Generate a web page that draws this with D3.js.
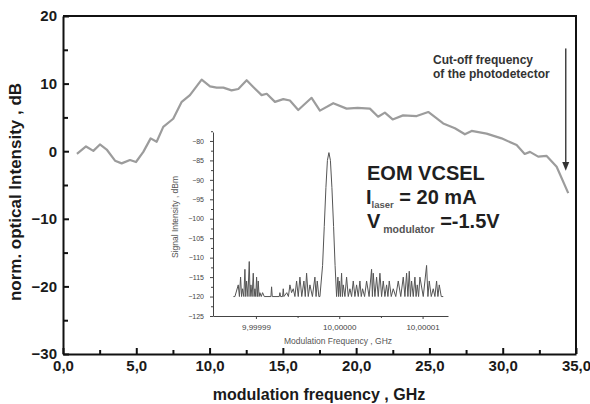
<!doctype html>
<html lang="en">
<head>
<meta charset="utf-8">
<title>EOM VCSEL modulation response</title>
<script src="https://d3js.org/d3.v7.min.js"></script>
<style>
  body { margin: 0; background: #fff; }
  svg { display: block; font-family: "Liberation Sans", Arial, sans-serif; }
  .main-axis text { font-size: 15px; font-weight: bold; fill: #1a1a1a; }
  .main-axis path, .main-axis line { stroke: #111; stroke-width: 2; }
  .inset-axis path, .inset-axis line { stroke: #444; stroke-width: 1; }
  .inset-axis text { fill: #444; }
</style>
</head>
<body>
<svg width="590" height="404"></svg>
<script>

// main response curve
var freqGHz = [0.95, 1.57, 2.07, 2.52, 2.98, 3.55, 4.0, 4.57, 4.98, 5.48, 5.98, 6.39, 6.84, 7.52,
  8.1, 8.66, 9.46, 10.03, 10.48, 10.94, 11.5, 11.96, 12.53, 12.98, 13.55, 13.9, 14.46, 15.03,
  15.48, 16.05, 16.96, 17.53, 18.44, 19.35, 20.1, 20.94, 21.5, 21.96, 22.49, 23.2, 24.13, 24.92,
  25.94, 26.74, 27.42, 27.88, 28.9, 29.92, 30.95, 31.5, 31.86, 32.42, 33.0, 33.68, 34.47];
var normDB = [-0.4, 0.7, 0.05, 1.0, 0.25, -1.4, -1.8, -1.3, -1.6, -0.1, 1.9, 1.4, 3.6, 4.8,
  7.3, 8.3, 10.6, 9.6, 9.4, 9.4, 9.0, 9.2, 10.5, 9.5, 8.3, 8.5, 7.3, 7.7,
  7.5, 6.1, 7.9, 6.0, 7.1, 6.3, 6.4, 6.3, 5.1, 5.7, 4.7, 5.3, 5.2, 5.8,
  4.1, 3.4, 2.5, 3.0, 2.6, 1.9, 0.9, -0.4, -0.1, -0.8, -0.7, -2.3, -6.2];

var xTicks = [0, 5, 10, 15, 20, 25, 30, 35];
var xMinor = [2.5, 7.5, 12.5, 17.5, 22.5, 27.5, 32.5];
var yTicks = [-30, -20, -10, 0, 10, 20];
var yMinor = [-25, -15, -5, 5, 15];

// inset spectrum: offset from 10 GHz in kHz, level in dBm
var specKHz = [-12.7, -12.52, -12.12, -11.98, -11.84, -11.72, -11.6, -11.45, -11.32, -11.22,
  -11.12, -10.96, -10.8, -10.7, -10.6, -10.46, -10.32, -10.22, -10.12, -10.02,
  -9.92, -9.82, -9.72, -9.62, -9.52, -9.36, -9.2, -9.0, -8.2, -8.12,
  -8.04, -7.2, -7.12, -7.04, -6.8, -6.72, -6.64, -6.3, -6.1, -5.92,
  -5.72, -5.52, -5.32, -5.12, -4.92, -4.72, -4.5, -4.24, -4.08, -3.92,
  -3.72, -3.52, -3.22, -2.92, -2.78, -2.64, -2.45, -2.32, -2.0, -1.8,
  -1.6, -1.42, -1.24, -1.06, -0.88, -0.68, -0.5, -0.32, -0.16, -0.08,
  0.0, 0.14, 0.28, 0.38, 0.48, 0.68, 0.88, 1.08, 1.28, 1.48,
  1.68, 1.88, 2.08, 2.28, 2.48, 2.64, 2.8, 3.04, 3.28, 3.58,
  3.88, 3.98, 4.08, 4.28, 4.48, 4.68, 4.88, 5.08, 5.28, 5.48,
  5.68, 5.84, 6.0, 6.24, 6.48, 6.78, 7.08, 7.38, 7.68, 7.88,
  8.08, 8.24, 8.4, 8.54, 8.68, 8.88, 9.08, 9.22, 9.36, 9.52,
  9.68, 10.08, 10.48, 10.64, 10.8, 11.04, 11.28, 11.48, 11.68, 11.84,
  12.0, 12.24, 12.48];
var specDBm = [-120, -120, -117, -120, -115, -120, -118, -120, -113, -120,
  -116, -120, -111, -120, -117, -120, -114, -120, -118, -120,
  -115, -120, -116, -120, -119, -120, -119, -120, -120, -117.5,
  -120, -120, -119, -120, -120, -118, -120, -119, -120, -117,
  -119, -118, -120, -116, -120, -115, -120, -116, -120, -114,
  -120, -117, -120, -115, -120, -116, -120, -120, -112, -102,
  -92, -85, -83, -85, -92, -102, -112, -120, -115, -120,
  -116, -120, -114, -120, -117, -120, -115, -120, -118, -120,
  -116, -120, -117, -120, -116, -120, -118, -120, -116, -120,
  -113, -120, -114, -120, -115, -120, -114, -120, -116, -120,
  -117, -120, -116, -120, -118, -120, -116, -120, -115, -120,
  -114, -120, -113.5, -120, -116, -120, -115, -120, -117, -120,
  -115, -120, -112, -120, -116, -120, -118, -120, -116, -120,
  -117, -120, -120];

var insetXTicks = [-10, 0, 10];
var insetXLabels = ["9,99999", "10,00000", "10,00001"];
var insetXMinor = [-5, 5];
var insetYTicks = [-125, -120, -115, -110, -105, -100, -95, -90, -85, -80];

var cutoffGHz = 34.3;

var svg = d3.select("svg");

var x = d3.scaleLinear().domain([0, 35]).range([63, 576]);
var y = d3.scaleLinear().domain([-30, 20]).range([354, 16]);

// frame top + right
svg.append("path")
  .attr("d", "M" + x(0) + "," + y(20) + "H" + x(35) + "V" + y(-30))
  .attr("fill", "none").attr("stroke", "#111").attr("stroke-width", 2);

var comma = d3.format(".1f");

svg.append("g").attr("class", "main-axis")
  .attr("transform", "translate(0," + y(-30) + ")")
  .call(d3.axisBottom(x).tickValues(xTicks).tickSize(-6).tickSizeOuter(0).tickPadding(6)
    .tickFormat(d => comma(d).replace(".", ",")));
svg.append("g").attr("class", "main-axis")
  .attr("transform", "translate(0," + y(-30) + ")")
  .call(d3.axisBottom(x).tickValues(xMinor).tickSize(-4).tickSizeOuter(0).tickFormat(""))
  .select(".domain").remove();

svg.append("g").attr("class", "main-axis")
  .attr("transform", "translate(" + x(0) + ",0)")
  .call(d3.axisLeft(y).tickValues(yTicks).tickSize(-6).tickSizeOuter(0).tickPadding(6));
svg.append("g").attr("class", "main-axis")
  .attr("transform", "translate(" + x(0) + ",0)")
  .call(d3.axisLeft(y).tickValues(yMinor).tickSize(-5).tickSizeOuter(0).tickFormat(""))
  .select(".domain").remove();

// axis titles
svg.append("text")
  .attr("x", 319).attr("y", 400)
  .attr("text-anchor", "middle")
  .attr("font-size", 16).attr("font-weight", "bold").attr("fill", "#1a1a1a")
  .text("modulation frequency , GHz");

svg.append("text")
  .attr("transform", "translate(21,192) rotate(-90)")
  .attr("text-anchor", "middle")
  .attr("font-size", 17).attr("font-weight", "bold").attr("fill", "#1a1a1a")
  .text("norm. optical Intensity , dB");

// response curve
var line = d3.line()
  .x((d, i) => x(freqGHz[i]))
  .y(d => y(d));

svg.append("path")
  .datum(normDB)
  .attr("d", line)
  .attr("fill", "none")
  .attr("stroke", "#9c9c9c")
  .attr("stroke-width", 2.2)
  .attr("stroke-linejoin", "round");

// cut-off arrow
var ax = x(cutoffGHz);
svg.append("line")
  .attr("x1", ax).attr("x2", ax)
  .attr("y1", y(15.2)).attr("y2", y(-2.2))
  .attr("stroke", "#444").attr("stroke-width", 1.5);
svg.append("path")
  .attr("d", "M" + (ax - 3.5) + "," + y(-1.6) + "L" + (ax + 3.5) + "," + y(-1.6) + "L" + ax + "," + y(-2.9) + "Z")
  .attr("fill", "#333");

var note = svg.append("text")
  .attr("font-size", 12).attr("font-weight", "bold").attr("fill", "#333");
note.append("tspan").attr("x", 433).attr("y", 64).text("Cut-off frequency");
note.append("tspan").attr("x", 433).attr("y", 78).text("of the photodetector");

// device label
var lbl = svg.append("g")
  .attr("font-weight", "bold").attr("fill", "#1f1f1f");
lbl.append("text").attr("x", 367).attr("y", 180).attr("font-size", 20).text("EOM VCSEL");
var l2 = lbl.append("text").attr("x", 366).attr("y", 204).attr("font-size", 20);
l2.append("tspan").text("I");
l2.append("tspan").attr("font-size", 9.5).attr("dy", 4).attr("fill", "#555").text("laser");
l2.append("tspan").attr("dy", -4).text(" = 20 mA");
var l3 = lbl.append("text").attr("x", 367).attr("y", 228).attr("font-size", 20);
l3.append("tspan").text("V");
l3.append("tspan").attr("font-size", 10.5).attr("dy", 5).attr("fill", "#555").text(" modulator");
l3.append("tspan").attr("dy", -5).text(" =-1.5V");

// inset spectrum
var ix = d3.scaleLinear().domain([-15.15, 13.05]).range([213, 448]);
var iy = d3.scaleLinear().domain([-125, -77.7]).range([316, 132]);

var inset = svg.append("g");

inset.append("g").attr("class", "inset-axis")
  .attr("transform", "translate(0,316)")
  .call(d3.axisBottom(ix).tickValues(insetXTicks).tickSize(3).tickSizeOuter(0).tickPadding(5)
    .tickFormat((d, i) => insetXLabels[i]))
  .selectAll("text").attr("font-size", 8);
inset.append("g").attr("class", "inset-axis")
  .attr("transform", "translate(0,316)")
  .call(d3.axisBottom(ix).tickValues(insetXMinor).tickSize(2).tickSizeOuter(0).tickFormat(""))
  .select(".domain").remove();

inset.append("g").attr("class", "inset-axis")
  .attr("transform", "translate(213,0)")
  .call(d3.axisLeft(iy).tickValues(insetYTicks).tickSize(3).tickSizeOuter(0).tickPadding(6))
  .selectAll("text").attr("font-size", 7);
inset.append("g").attr("class", "inset-axis")
  .attr("transform", "translate(213,0)")
  .call(d3.axisLeft(iy).tickValues(insetYTicks.map(v => v + 2.5)).tickSize(2).tickSizeOuter(0).tickFormat(""))
  .select(".domain").remove();

inset.append("text")
  .attr("x", 338).attr("y", 344)
  .attr("text-anchor", "middle").attr("font-size", 8.5).attr("fill", "#555")
  .text("Modulation Frequency , GHz");
inset.append("text")
  .attr("transform", "translate(178,217) rotate(-90)")
  .attr("text-anchor", "middle").attr("font-size", 8.5).attr("fill", "#555")
  .text("Signal Intensity , dBm");

var specLine = d3.line()
  .x((d, i) => ix(specKHz[i]))
  .y(d => iy(d));

inset.append("path")
  .datum(specDBm)
  .attr("d", specLine)
  .attr("fill", "none")
  .attr("stroke", "#555")
  .attr("stroke-width", 1);

</script>
</body>
</html>
